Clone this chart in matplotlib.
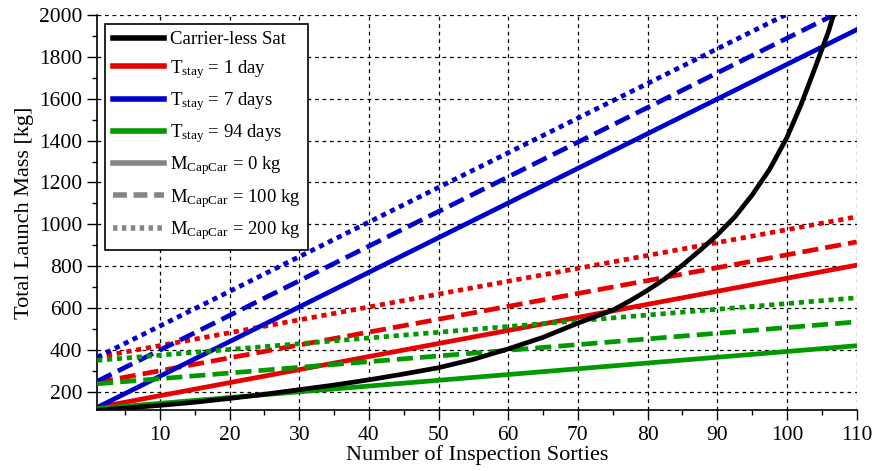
import matplotlib
matplotlib.use("Agg")
import matplotlib.pyplot as plt
import numpy as np
from matplotlib.ticker import MultipleLocator

plt.rcParams["font.family"] = ["Liberation Serif", "DejaVu Serif"]
plt.rcParams["mathtext.fontset"] = "custom"
plt.rcParams["mathtext.rm"] = "Liberation Serif"
plt.rcParams["mathtext.default"] = "regular"

# sorties range (x-axis ends)
sorties_ends = [1, 110]

# linear cases: launch mass at 1 and 110 sorties [kg]
red_solid = [125, 805]
red_dashed = [245, 916]
red_dotted = [365, 1036]
blue_solid = [125, 1930]
blue_dashed = [250, 2055]
blue_dotted = [365, 2170]
green_solid = [120, 420]
green_dashed = [238, 534]
green_dotted = [350, 649]

# carrier-less satellite curve
carrierless_x = [1, 5, 10, 15, 20, 25, 30, 35, 40, 45, 50, 55, 60, 65, 70, 75,
                 77.5, 80, 82.5, 85, 87.5, 90, 92.5, 95, 97.5, 100, 102, 104,
                 106, 107.2]
carrierless_y = [112, 122, 135, 150, 168, 188, 210, 232, 257, 285, 315, 355,
                 405, 460, 528, 590, 635, 685, 740, 805, 875, 950, 1035, 1140,
                 1262, 1415, 1570, 1745, 1925, 2060]

RED = "#e80000"
BLUE = "#0000cc"
GREEN = "#009a00"
GRAY = "#858585"
DASH = (0, (3.4, 1.5))
DOT = (0, (1.1, 1.0))
LW = 3.4

fig = plt.figure(figsize=(8.75, 4.71), dpi=100)
ax = fig.add_axes([0.111, 0.130, 0.868, 0.838])

ax.plot(carrierless_x, carrierless_y, color="black", lw=LW, zorder=5)
for col, series in [(RED, (red_solid, red_dashed, red_dotted)),
                    (BLUE, (blue_solid, blue_dashed, blue_dotted)),
                    (GREEN, (green_solid, green_dashed, green_dotted))]:
    for vals, ls in zip(series, ["-", DASH, DOT]):
        ax.plot(sorties_ends, vals, color=col, lw=LW, ls=ls, zorder=4)

ax.set_xlim(1, 110)
ax.set_ylim(114, 2000)
ax.xaxis.set_major_locator(MultipleLocator(10))
ax.xaxis.set_minor_locator(MultipleLocator(5))
ax.yaxis.set_major_locator(MultipleLocator(200))
ax.yaxis.set_minor_locator(MultipleLocator(100))
ax.set_xticks(np.arange(10, 111, 10))
ax.tick_params(axis="both", which="major", labelsize=15.5, length=7, width=1,
               direction="out", colors="black")
ax.tick_params(axis="x", which="major", pad=5)
ax.tick_params(axis="both", which="minor", length=3.5, width=1, direction="out")
ax.spines["top"].set_visible(False)
ax.spines["right"].set_visible(False)
ax.spines["left"].set_linewidth(1.2)
ax.spines["bottom"].set_linewidth(1.2)
ax.grid(True, which="major", color="black", ls=(0, (3, 3)), lw=0.9)
ax.set_axisbelow(True)

ax.set_xlabel("Number of Inspection Sorties", fontsize=16, labelpad=0)
ax.set_ylabel("Total Launch Mass [kg]", fontsize=16, labelpad=4)

handles = [
    plt.Line2D([], [], color="black", lw=4),
    plt.Line2D([], [], color=RED, lw=4),
    plt.Line2D([], [], color=BLUE, lw=4),
    plt.Line2D([], [], color=GREEN, lw=4),
    plt.Line2D([], [], color=GRAY, lw=4),
    plt.Line2D([], [], color=GRAY, lw=4, ls=(0, (2.5, 1.2))),
    plt.Line2D([], [], color=GRAY, lw=4, ls=(0, (0.8, 0.8))),
]
labels = [
    "Carrier-less Sat",
    r"T$_{stay}$ = 1 day",
    r"T$_{stay}$ = 7 days",
    r"T$_{stay}$ = 94 days",
    r"M$_{CapCar}$ = 0 kg",
    r"M$_{CapCar}$ = 100 kg",
    r"M$_{CapCar}$ = 200 kg",
]
leg = ax.legend(handles, labels, loc="upper left", bbox_to_anchor=(0.011, 0.978),
                fontsize=13.5, frameon=True, fancybox=False, framealpha=1,
                edgecolor="black", handlelength=2.7, handletextpad=0.35,
                labelspacing=0.5, borderpad=0.4, borderaxespad=0)
leg.get_frame().set_linewidth(1.2)
leg.set_zorder(10)

fig.savefig("out.png", dpi=100)
